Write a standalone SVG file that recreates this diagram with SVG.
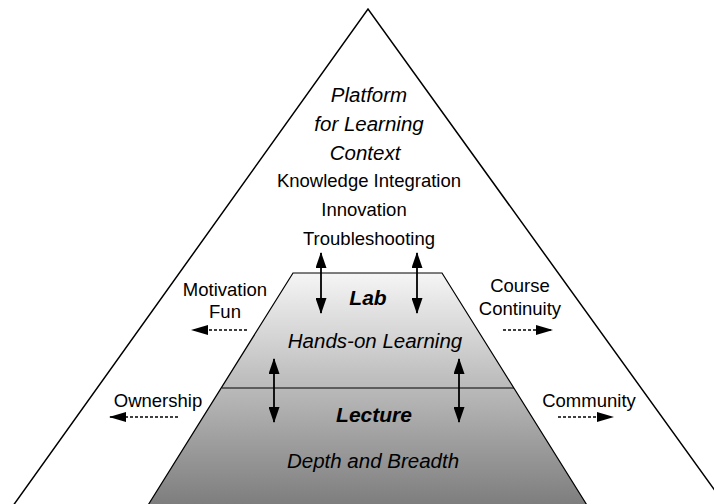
<svg xmlns="http://www.w3.org/2000/svg" width="714" height="504" viewBox="0 0 714 504">
<defs>
<linearGradient id="grad" x1="0" y1="273" x2="0" y2="504" gradientUnits="userSpaceOnUse">
<stop offset="0" stop-color="#f5f5f5"/>
<stop offset="1" stop-color="#7e7e7e"/>
</linearGradient>
<marker id="ah" viewBox="0 0 16 11" refX="15" refY="5.5" markerWidth="16" markerHeight="11" markerUnits="userSpaceOnUse" orient="auto-start-reverse">
<path d="M0,0 L16,5.5 L0,11 Z" fill="#000"/>
</marker>
<marker id="dh" viewBox="0 0 17 10" refX="16" refY="5" markerWidth="17" markerHeight="10" markerUnits="userSpaceOnUse" orient="auto">
<path d="M0,0 L17,5 L0,10 Z" fill="#000"/>
</marker>
<style>
.t{font-family:"Liberation Sans",Arial,sans-serif;text-anchor:middle;fill:#000}
.r{font-size:18.5px}
.i{font-size:20.5px;font-style:italic}
.bi{font-size:21px;font-style:italic;font-weight:bold}
.ar{stroke:#000;stroke-width:1.8;fill:none;marker-start:url(#ah);marker-end:url(#ah)}
.da{stroke:#000;stroke-width:1.3;stroke-dasharray:3,2;fill:none;marker-end:url(#dh)}
.edge{stroke:#000;stroke-width:1.5;fill:none}
</style>
</defs>
<rect width="714" height="504" fill="#fff"/>
<g id="platform">
<polyline class="edge" points="5,517 368,9 734,517"/>
<text class="t i" x="369" y="102">Platform</text>
<text class="t i" x="369" y="131">for Learning</text>
<text class="t i" x="365" y="160">Context</text>
<text class="t r" x="369" y="187">Knowledge Integration</text>
<text class="t r" x="364" y="216">Innovation</text>
<text class="t r" x="369" y="245">Troubleshooting</text>
</g>
<g id="pyramid">
<polygon points="293,273 442,273 590,510 145,510" fill="url(#grad)" stroke="#000" stroke-width="1.2"/>
<line x1="222" y1="388" x2="514" y2="388" stroke="#000" stroke-width="1.2"/>
</g>
<g id="lab">
<text class="t bi" x="368" y="305">Lab</text>
<text class="t i" x="375" y="348">Hands-on Learning</text>
</g>
<g id="lecture">
<text class="t bi" x="374" y="422">Lecture</text>
<text class="t i" x="373" y="468">Depth and Breadth</text>
</g>
<g id="side-labels">
<text class="t r" x="225" y="296">Motivation</text>
<text class="t r" x="225" y="318">Fun</text>
<text class="t r" x="158" y="407">Ownership</text>
<text class="t r" x="520" y="292">Course</text>
<text class="t r" x="520" y="315">Continuity</text>
<text class="t r" x="589" y="407">Community</text>
</g>
<g id="connectors">
<line class="ar" x1="321" y1="253" x2="321" y2="313"/>
<line class="ar" x1="417" y1="253" x2="417" y2="313"/>
<line class="ar" x1="274" y1="359" x2="274" y2="422"/>
<line class="ar" x1="459" y1="359" x2="459" y2="422"/>
<line class="da" x1="247" y1="330" x2="192" y2="330"/>
<line class="da" x1="178" y1="417" x2="110" y2="417"/>
<line class="da" x1="503" y1="330" x2="552" y2="330"/>
<line class="da" x1="558" y1="417" x2="613" y2="417"/>
</g>
</svg>
